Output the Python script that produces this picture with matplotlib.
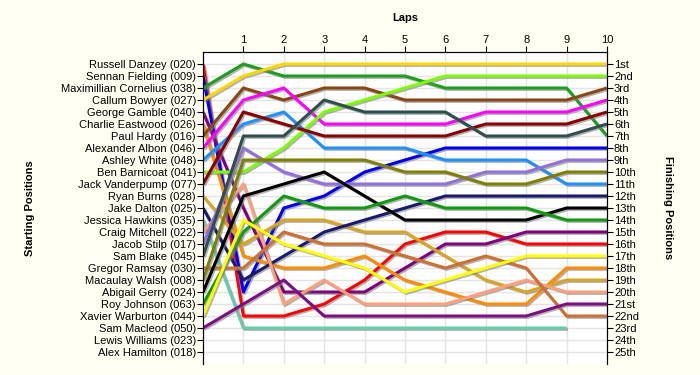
import matplotlib
matplotlib.use("Agg")
import matplotlib.pyplot as plt
import matplotlib.patheffects as pe

plt.rcParams['font.family'] = ['Liberation Sans', 'DejaVu Sans']

drivers = ["Russell Danzey (020)", "Sennan Fielding (009)", "Maximillian Cornelius (038)",
           "Callum Bowyer (027)", "George Gamble (040)", "Charlie Eastwood (026)",
           "Paul Hardy (016)", "Alexander Albon (046)", "Ashley White (048)",
           "Ben Barnicoat (041)", "Jack Vanderpump (077)", "Ryan Burns (028)",
           "Jake Dalton (025)", "Jessica Hawkins (035)", "Craig Mitchell (022)",
           "Jacob Stilp (017)", "Sam Blake (045)", "Gregor Ramsay (030)",
           "Macaulay Walsh (008)", "Abigail Gerry (024)", "Roy Johnson (063)",
           "Xavier Warburton (044)", "Sam Macleod (050)", "Lewis Williams (023)",
           "Alex Hamilton (018)"]

finish_labels = ["1st", "2nd", "3rd"] + [f"{i}th" for i in range(4, 21)] + \
                ["21st", "22nd", "23rd", "24th", "25th"]

laps = list(range(11))

# position at each lap (0 = grid) for the first 23 drivers, None = retired
positions = [
    [1, 22, 22, 21, 19, 16, 15, 15, 16, 16, 16],
    [2, 20, 13, 12, 10, 9, 8, 8, 8, 8, 8],
    [3, 1, 2, 2, 2, 2, 3, 3, 3, 3, 7],
    [4, 2, 1, 1, 1, 1, 1, 1, 1, 1, 1],
    [5, 13, 20, 20, 20, 18, 16, 16, 15, 15, 15],
    [6, 17, 18, 18, 17, 19, 20, 21, 21, 18, 18],
    [7, 3, 4, 3, 3, 4, 4, 4, 4, 4, 3],
    [8, 4, 3, 6, 6, 6, 6, 5, 5, 5, 4],
    [9, 6, 5, 8, 8, 8, 9, 9, 9, 11, 11],
    [10, 10, 8, 5, 4, 3, 2, 2, 2, 2, 2],
    [11, 5, 6, 7, 7, 7, 7, 6, 6, 6, 5],
    [12, 16, 14, 14, 15, 15, 17, 19, 20, 19, 19],
    [13, 19, 17, 15, 14, 13, 12, 12, 12, 12, 12],
    [14, 23, 23, 23, 23, 23, 23, 23, 23, 23, None],
    [15, 11, 21, 19, 21, 21, 21, 20, 19, 20, 20],
    [16, 8, 10, 11, 11, 11, 11, 10, 10, 9, 9],
    [17, 7, 7, 4, 5, 5, 5, 7, 7, 7, 6],
    [18, 18, 15, 16, 16, 17, 18, 17, 18, 22, 22],
    [19, 9, 9, 9, 9, 10, 10, 11, 11, 10, 10],
    [20, 12, 11, 10, 12, 14, 14, 14, 14, 13, 13],
    [21, 15, 12, 13, 13, 12, 13, 13, 13, 14, 14],
    [22, 14, 16, 17, 18, 20, 19, 18, 17, 17, 17],
    [23, 21, 19, 22, 22, 22, 22, 22, 22, 21, 21],
]

colours = ["#FF0000", "#0000EE", "#1E9E1E", "#FFD700", "#800080", "#FF8C00",
           "#8B4513", "#FF00FF", "#1E90FF", "#7CFC00", "#8B0000", "#DAA520",
           "#191970", "#66CDAA", "#FFA07A", "#9370DB", "#2F4F4F", "#CD7032",
           "#808000", "#000000", "#109A10", "#FFFF00", "#7D0F85"]

fig = plt.figure(figsize=(7, 3.75), dpi=100, facecolor="#FFFFF2")
ax = fig.add_axes([203 / 700, 1 - 364 / 375, 404 / 700, 312 / 375])
ax.set_facecolor("white")

shadow = [pe.SimpleLineShadow(offset=(1, -1), shadow_color="0.5", alpha=0.6), pe.Normal()]
for pos, col in zip(positions, colours):
    xs = [l for l, p in zip(laps, pos) if p is not None]
    ys = [p for p in pos if p is not None]
    ax.plot(xs, ys, color=col, lw=2.2, path_effects=shadow, solid_capstyle="butt", zorder=3)

ax.set_xlim(0, 10)
ax.set_ylim(26, 0)
ax.set_yticks(range(1, 26))
ax.set_yticklabels(drivers, fontsize=8)
ax.set_xticks(range(1, 11))
ax.set_xticklabels([str(i) for i in range(1, 11)], fontsize=8)
ax.xaxis.tick_top()
ax.tick_params(axis="x", length=4, pad=1)
ax.tick_params(axis="y", length=4, pad=1)
ax.grid(True, color="#E4E4E4", lw=1, zorder=0)
ax.set_axisbelow(True)
ax.spines["bottom"].set_visible(False)

ax2 = ax.twinx()
ax2.set_ylim(26, 0)
ax2.set_yticks(range(1, 26))
ax2.set_yticklabels(finish_labels, fontsize=8)
ax2.tick_params(axis="y", length=4, pad=1)
ax2.spines["bottom"].set_visible(False)

fig.text(405 / 700, 1 - 18 / 375, "Laps", ha="center", va="center", fontsize=8, fontweight="bold")
fig.text(30 / 700, 1 - 208 / 375, "Starting Positions", ha="center", va="center",
         rotation=90, fontsize=8, fontweight="bold")
fig.text(668 / 700, 1 - 208 / 375, "Finishing Positions", ha="center", va="center",
         rotation=-90, fontsize=8, fontweight="bold")

fig.savefig("out.png", dpi=100, facecolor=fig.get_facecolor())
